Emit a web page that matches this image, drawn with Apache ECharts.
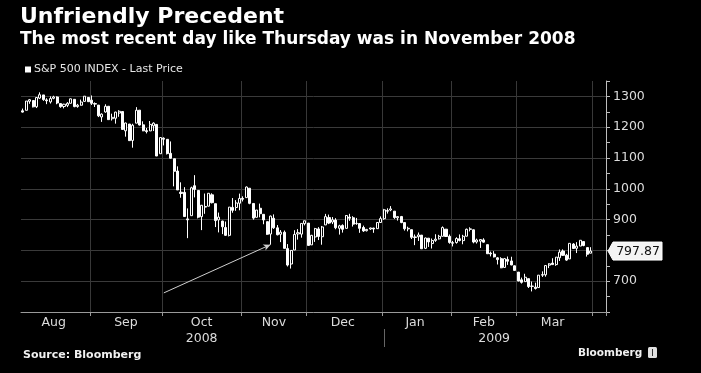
<!DOCTYPE html>
<html><head><meta charset="utf-8">
<script src="https://cdn.jsdelivr.net/npm/echarts@6/dist/echarts.min.js"></script>
<style>html,body{margin:0;padding:0;background:#000}#c{width:701px;height:373px}</style>
</head><body><div id="c"></div>
<script>
// ---- categories: trading days (plus 4 empty days at the right edge) ----
const dates = [
'2008-08-04','2008-08-05','2008-08-06','2008-08-07','2008-08-08','2008-08-11','2008-08-12','2008-08-13','2008-08-14','2008-08-15','2008-08-18','2008-08-19','2008-08-20','2008-08-21','2008-08-22','2008-08-25','2008-08-26','2008-08-27','2008-08-28','2008-08-29',
'2008-09-02','2008-09-03','2008-09-04','2008-09-05','2008-09-08','2008-09-09','2008-09-10','2008-09-11','2008-09-12','2008-09-15','2008-09-16','2008-09-17','2008-09-18','2008-09-19','2008-09-22','2008-09-23','2008-09-24','2008-09-25','2008-09-26','2008-09-29','2008-09-30',
'2008-10-01','2008-10-02','2008-10-03','2008-10-06','2008-10-07','2008-10-08','2008-10-09','2008-10-10','2008-10-13','2008-10-14','2008-10-15','2008-10-16','2008-10-17','2008-10-20','2008-10-21','2008-10-22','2008-10-23','2008-10-24','2008-10-27','2008-10-28','2008-10-29','2008-10-30','2008-10-31',
'2008-11-03','2008-11-04','2008-11-05','2008-11-06','2008-11-07','2008-11-10','2008-11-11','2008-11-12','2008-11-13','2008-11-14','2008-11-17','2008-11-18','2008-11-19','2008-11-20','2008-11-21','2008-11-24','2008-11-25','2008-11-26','2008-11-28',
'2008-12-01','2008-12-02','2008-12-03','2008-12-04','2008-12-05','2008-12-08','2008-12-09','2008-12-10','2008-12-11','2008-12-12','2008-12-15','2008-12-16','2008-12-17','2008-12-18','2008-12-19','2008-12-22','2008-12-23','2008-12-24','2008-12-26','2008-12-29','2008-12-30','2008-12-31',
'2009-01-02','2009-01-05','2009-01-06','2009-01-07','2009-01-08','2009-01-09','2009-01-12','2009-01-13','2009-01-14','2009-01-15','2009-01-16','2009-01-20','2009-01-21','2009-01-22','2009-01-23','2009-01-26','2009-01-27','2009-01-28','2009-01-29','2009-01-30',
'2009-02-02','2009-02-03','2009-02-04','2009-02-05','2009-02-06','2009-02-09','2009-02-10','2009-02-11','2009-02-12','2009-02-13','2009-02-17','2009-02-18','2009-02-19','2009-02-20','2009-02-23','2009-02-24','2009-02-25','2009-02-26','2009-02-27',
'2009-03-02','2009-03-03','2009-03-04','2009-03-05','2009-03-06','2009-03-09','2009-03-10','2009-03-11','2009-03-12','2009-03-13','2009-03-16','2009-03-17','2009-03-18','2009-03-19','2009-03-20','2009-03-23','2009-03-24','2009-03-25','2009-03-26','2009-03-27','2009-03-30','2009-03-31',
'2009-04-01','2009-04-02','2009-04-03','2009-04-06'
];

// ---- series values: S&P 500 daily OHLC ----
const opens = [
1253.27,1254.87,1283.99,1286.51,1266.29,1294.42,1304.79,1288.64,1282.11,1293.85,1298.14,1276.65,1267.34,1271.07,1277.59,1290.47,1267.03,1271.29,1283.79,1296.49,
1287.83,1276.61,1271.80,1233.21,1249.50,1267.98,1227.50,1229.04,1245.88,1250.92,1188.31,1210.34,1157.08,1213.11,1255.37,1207.61,1188.79,1187.87,1204.47,1209.07,1113.78,
1164.17,1160.64,1115.16,1097.56,1057.60,988.91,988.42,902.31,912.75,1009.97,994.60,909.53,942.29,943.51,980.40,951.67,899.08,895.22,874.28,848.92,939.51,939.38,953.11,
968.67,971.31,1001.84,952.40,907.44,936.75,917.15,893.39,853.13,904.36,873.23,852.34,859.03,805.87,755.84,801.20,853.40,852.90,886.89,
888.61,817.94,843.60,869.75,844.43,882.71,906.48,892.17,898.35,871.79,881.07,871.53,908.16,905.98,886.96,887.20,874.31,863.87,869.51,872.37,870.58,890.59,
902.99,929.17,931.17,927.45,905.73,909.91,890.40,869.79,867.28,841.99,844.45,849.64,806.77,839.74,822.16,832.50,837.30,845.73,868.89,845.69,
823.09,825.69,837.77,831.75,846.09,868.24,866.87,827.41,829.91,833.95,818.61,791.06,787.91,775.87,773.25,744.69,770.64,765.76,749.93,
729.57,704.44,698.60,708.27,684.04,680.76,679.28,719.59,720.89,751.97,758.84,753.88,776.01,797.92,784.58,772.31,820.60,806.81,814.06,828.68,809.07,790.88
];
const highs = [
1260.49,1284.88,1291.67,1286.51,1297.85,1313.15,1304.79,1294.03,1300.11,1302.05,1300.22,1276.65,1276.01,1281.40,1293.09,1290.47,1275.65,1289.59,1300.68,1297.59,
1303.04,1280.60,1271.80,1244.94,1274.42,1268.66,1243.90,1249.98,1255.09,1250.92,1214.84,1210.34,1211.14,1265.12,1255.37,1219.15,1197.41,1220.03,1215.77,1209.07,1168.03,
1167.03,1160.64,1153.82,1097.56,1072.91,1021.06,1005.25,936.36,1006.93,1044.31,994.60,947.71,984.64,985.40,985.44,951.67,922.83,896.30,893.78,940.51,969.97,963.23,984.38,
975.57,1007.51,1001.84,952.40,931.46,951.95,917.15,893.39,913.01,916.88,882.29,865.90,864.57,820.52,801.20,865.60,868.94,887.68,896.25,
888.61,850.54,873.12,875.60,879.42,918.57,916.26,908.27,904.63,883.24,884.63,914.66,918.85,911.02,905.47,887.37,880.44,869.79,873.74,873.70,891.12,910.32,
934.73,936.63,943.85,927.45,910.00,911.93,890.40,877.02,867.28,851.59,858.13,849.64,841.72,839.74,838.61,852.53,850.45,877.86,868.89,851.66,
830.78,842.60,851.85,850.55,870.75,875.01,868.05,838.22,835.48,839.43,818.61,796.17,797.58,778.69,777.85,775.49,780.12,779.42,751.27,
729.57,711.67,724.12,708.27,699.09,695.27,719.60,731.92,752.63,758.29,774.53,778.12,803.04,803.24,788.91,823.37,823.65,826.78,832.98,828.68,809.07,810.48
];
const lows = [
1247.45,1254.67,1276.00,1264.29,1262.11,1291.41,1285.64,1274.86,1276.84,1290.74,1274.51,1263.11,1261.16,1265.22,1277.59,1264.87,1263.21,1270.03,1283.79,1282.74,
1272.20,1265.59,1232.83,1217.23,1247.12,1224.51,1221.60,1211.54,1233.81,1192.70,1169.28,1155.88,1133.50,1213.11,1205.61,1187.06,1179.79,1187.87,1187.54,1106.42,1113.78,
1140.77,1111.43,1098.14,1007.97,996.23,970.97,909.19,839.80,912.75,972.07,903.99,865.83,918.74,943.51,952.47,875.81,858.44,852.85,846.75,845.27,922.26,928.50,930.23,
958.82,971.31,949.86,899.73,906.90,907.47,884.90,850.48,818.69,869.88,848.98,826.84,806.18,747.78,741.02,801.20,834.99,841.37,881.21,
815.69,817.94,827.60,833.60,818.41,882.71,885.38,885.45,868.73,851.35,857.72,871.53,895.94,877.44,883.02,857.09,860.10,861.44,866.52,857.07,870.58,889.67,
899.35,919.53,927.28,902.37,896.81,888.31,864.32,862.02,836.93,817.04,830.66,804.47,804.30,811.29,806.07,827.69,835.40,845.73,844.15,821.67,
812.87,821.98,829.18,819.91,845.42,861.65,822.99,822.30,808.06,825.21,789.17,780.43,777.03,754.25,742.37,744.69,752.89,751.75,734.52,
699.70,692.30,698.60,677.93,666.79,672.88,679.28,713.85,714.76,742.46,753.37,749.93,765.64,781.82,766.20,772.31,805.48,791.37,814.06,813.43,779.81,790.88
];
const closes = [
1249.01,1284.88,1289.19,1266.07,1296.32,1305.32,1289.59,1285.83,1292.93,1298.20,1278.60,1266.69,1274.54,1277.72,1292.20,1266.84,1271.51,1281.66,1300.68,1282.83,
1277.58,1274.98,1236.83,1242.31,1267.79,1224.51,1232.04,1249.05,1251.70,1192.70,1213.60,1156.39,1206.51,1255.08,1207.09,1188.22,1185.87,1209.18,1213.27,1106.42,1166.36,
1161.06,1114.28,1099.23,1056.89,996.23,984.94,909.92,899.22,1003.35,998.01,907.84,946.43,940.55,985.40,955.05,896.78,908.11,876.77,848.92,940.51,930.09,954.09,968.75,
966.30,1005.75,952.77,904.88,930.99,919.21,898.95,852.30,911.29,873.29,850.75,859.12,806.58,752.44,800.03,851.81,857.39,887.68,896.24,
816.21,848.81,870.74,845.22,876.07,909.70,888.67,899.24,873.59,879.73,868.57,913.18,904.42,885.28,887.88,871.63,863.16,868.15,872.80,869.42,890.64,903.25,
931.80,927.45,934.70,906.65,909.73,890.35,870.26,871.79,842.62,843.74,850.12,805.22,840.24,827.50,831.95,836.57,845.71,874.09,845.14,825.88,
825.44,838.51,832.23,845.85,868.60,869.89,827.16,833.74,835.19,826.84,789.17,788.42,778.94,770.05,743.33,773.14,764.90,752.83,735.09,
700.82,696.33,712.87,682.55,683.38,676.53,719.60,721.36,750.74,756.55,753.89,778.12,794.35,784.04,768.54,822.92,806.12,813.88,832.86,815.94,787.53,797.87
];

// ---- tick labels & texts ----
const monthNames = ['Jan','Feb','Mar','Apr','May','Jun','Jul','Aug','Sep','Oct','Nov','Dec'];
const yTickLabels = [700, 800, 900, 1000, 1100, 1200, 1300];
const seriesName = 'S&P 500 INDEX - Last Price';
const titleText = 'Unfriendly Precedent';
const subtitleText = 'The most recent day like Thursday was in November 2008';
const sourceText = 'Source: Bloomberg';
const brandText = 'Bloomberg';
// annotation arrow: from (category, value) to the low of Thursday Nov 13 2008
const arrowFrom = ['2008-10-01', 662];
const arrowTo = ['2008-11-13', 818.69];

if (opens.length !== closes.length || highs.length !== closes.length || lows.length !== closes.length) {
  throw new Error('length mismatch ' + [opens.length, highs.length, lows.length, closes.length]);
}

const ohlc = closes.map((c, i) => [opens[i], c, lows[i], highs[i]]);

// month/year boundaries derived from the category dates
const monthStarts = [];
const monthLabelIdx = {};
const yearStarts = [];
const yearLabelIdx = {};
{
  const mk = dates.map(d => d.slice(0, 7));
  const yk = dates.map(d => d.slice(0, 4));
  const lastData = closes.length - 1;
  let s = 0;
  for (let i = 1; i <= dates.length; i++) {
    if (i === dates.length || mk[i] !== mk[i - 1]) {
      if (s <= lastData) {
        const e = Math.min(i - 1, lastData);
        monthLabelIdx[Math.floor((s + e) / 2)] = monthNames[+mk[s].slice(5, 7) - 1];
      }
      if (i < dates.length) monthStarts.push(i);
      s = i;
    }
  }
  s = 0;
  for (let i = 1; i <= dates.length; i++) {
    if (i === dates.length || yk[i] !== yk[i - 1]) {
      yearLabelIdx[Math.floor((s + i - 1) / 2)] = yk[s];
      if (i < dates.length) yearStarts.push(i);
      s = i;
    }
  }
}
const monthStartSet = new Set(monthStarts);
const yearStartSet = new Set(yearStarts);

const FONT = '"DejaVu Sans", Verdana, sans-serif';
const chart = echarts.init(document.getElementById('c'), null, {renderer: 'canvas'});

const option = {
  backgroundColor: '#000',
  animation: false,
  textStyle: {fontFamily: FONT},
  grid: {left: 21, right: 95, top: 81, bottom: 61, containLabel: false},
  legend: {
    data: [{name: seriesName, icon: 'rect', itemStyle: {color: '#fff', borderColor: '#fff', borderWidth: 0}}],
    left: 20, top: 59, itemWidth: 6, itemHeight: 6, selectedMode: false,
    textStyle: {color: '#e6e6e6', fontSize: 11, fontFamily: FONT, padding: [0, 0, 0, -2]}
  },
  xAxis: [{
    type: 'category',
    data: dates,
    boundaryGap: true,
    position: 'bottom',
    axisLine: {show: true, lineStyle: {color: '#9a9a9a', width: 1}},
    axisTick: {show: true, length: 4, interval: (i) => monthStartSet.has(i), lineStyle: {color: '#9a9a9a'}},
    splitLine: {show: true, interval: (i) => monthStartSet.has(i), lineStyle: {color: '#383838', width: 1}},
    axisLabel: {
      interval: (i) => monthLabelIdx[i] !== undefined,
      formatter: (v, i) => monthLabelIdx[i] || '',
      color: '#dcdcdc', fontSize: 12.5, margin: 4, fontFamily: FONT
    }
  }, {
    type: 'category',
    data: dates,
    boundaryGap: true,
    position: 'bottom',
    offset: 17,
    axisLine: {show: false},
    axisTick: {show: true, alignWithLabel: true, length: 18, interval: (i) => yearStartSet.has(i), lineStyle: {color: '#666'}},
    splitLine: {show: false},
    axisLabel: {
      interval: (i) => yearLabelIdx[i] !== undefined,
      formatter: (v, i) => yearLabelIdx[i] || '',
      color: '#dcdcdc', fontSize: 12.5, margin: 3, fontFamily: FONT
    }
  }],
  yAxis: {
    type: 'value',
    position: 'right',
    min: 600, max: 1350, interval: 50,
    axisLine: {show: true, lineStyle: {color: '#bdbdbd', width: 1}},
    axisTick: {show: true, inside: false, length: 4, lineStyle: {color: '#bdbdbd'}},
    splitLine: {show: true, lineStyle: {color: ['#3a3a3a', 'rgba(0,0,0,0)'], width: 1}},
    axisLabel: {
      formatter: (v) => yTickLabels.indexOf(v) >= 0 ? String(v) : '',
      color: '#dcdcdc', fontSize: 12.5, margin: 7, fontFamily: FONT
    }
  },
  series: [{
    name: seriesName,
    type: 'candlestick',
    data: ohlc,
    barWidth: '75%',
    itemStyle: {color: '#000', color0: '#fff', borderColor: '#fff', borderColor0: '#fff', borderWidth: 1},
    markLine: {
      silent: true,
      symbol: ['none', 'arrow'],
      symbolSize: [5, 7],
      label: {show: false},
      lineStyle: {color: '#cfcfcf', width: 1, type: 'solid'},
      data: [[{coord: arrowFrom}, {coord: arrowTo}]]
    }
  }]
};
chart.setOption(option);

const lastClose = closes[closes.length - 1];
const py = chart.convertToPixel({yAxisIndex: 0}, lastClose);
const ax = 701 - 95; // right edge of grid
chart.setOption({
  graphic: [
    {type: 'text', style: {text: titleText, x: 20, y: 17, font: 'bold 22px ' + FONT, fill: '#fff', verticalAlign: 'middle'}},
    {type: 'text', style: {text: subtitleText, x: 20, y: 40, font: 'bold 17px ' + FONT, fill: '#fff', verticalAlign: 'middle'}},
    {type: 'polygon', z: 100, zlevel: 1, shape: {points: [[ax + 2, py], [ax + 7, py - 9], [ax + 56, py - 9], [ax + 56, py + 9], [ax + 7, py + 9]]}, style: {fill: '#f4f4f4', stroke: '#fff'}},
    {type: 'text', z: 101, zlevel: 1, style: {text: lastClose.toFixed(2), x: ax + 32, y: py + 0.5, font: '12.5px ' + FONT, fill: '#111', align: 'center', verticalAlign: 'middle'}},
    {type: 'text', style: {text: sourceText, x: 23, y: 355, font: 'bold 11px ' + FONT, fill: '#f0f0f0', verticalAlign: 'middle'}},
    {type: 'text', style: {text: brandText, x: 578, y: 353, font: 'bold 10.5px ' + FONT, fill: '#f0f0f0', verticalAlign: 'middle'}},
    {type: 'rect', shape: {x: 648, y: 347, width: 9, height: 11, r: 1.5}, style: {fill: '#e0e0e0'}},
    {type: 'rect', shape: {x: 652, y: 349, width: 1, height: 7}, style: {fill: '#333'}}
  ]
});
</script>
</body></html>
